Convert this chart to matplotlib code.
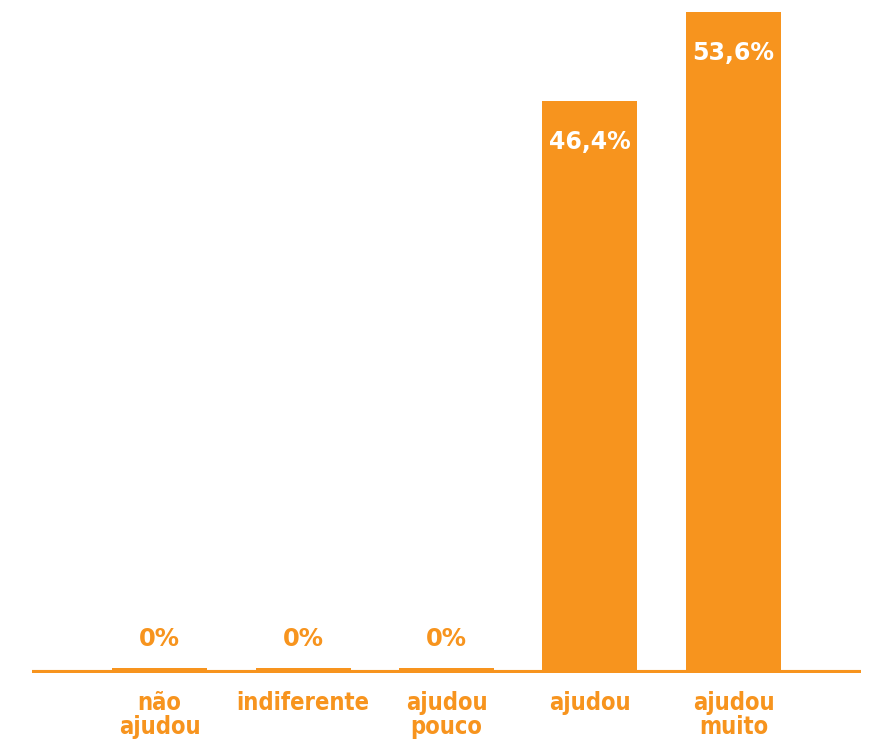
import matplotlib.pyplot as plt
import numpy as np

# Dados
categorias = ['não\najudou', 'indiferente', 'ajudou\npouco', 'ajudou', 'ajudou\nmuito']
valores = [0.0, 0.0, 0.0, 46.4, 53.6]
rotulos = ['0%', '0%', '0%', '46,4%', '53,6%']

laranja = '#F7941E'

fig = plt.figure(figsize=(8.69, 7.42), dpi=100)
ax = fig.add_axes([32 / 869, 0.093, 829 / 869, 0.907])

x = np.arange(len(categorias))
# barras de 0% aparecem como um pequeno traço acima da linha de base
altura = [max(v, 0.42) for v in valores]
ax.bar(x, altura, width=0.662, color=laranja, zorder=2)
ax.axhline(0, color=laranja, linewidth=4.4, zorder=3)

for xi, v, txt in zip(x, valores, rotulos):
    if v > 5:
        ax.annotate(txt, (xi, v), xytext=(0, -29.5), textcoords='offset points',
                    ha='center', va='center', color='white',
                    fontsize=17, fontweight='bold')
    else:
        ax.annotate(txt, (xi, 0.42), xytext=(0, 21), textcoords='offset points',
                    ha='center', va='center', color=laranja,
                    fontsize=17.5, fontweight='bold')

ax.set_xlim(-0.889, 4.889)
ax.set_ylim(0, 54.57)
ax.set_xticks(x, categorias)
ax.tick_params(axis='x', length=0, pad=13, labelcolor=laranja)
for lbl in ax.get_xticklabels():
    lbl.set_fontsize(17)
    lbl.set_fontweight('bold')
    lbl.set_fontstretch('condensed')
    lbl.set_linespacing(1.0)
ax.set_yticks([])
for s in ax.spines.values():
    s.set_visible(False)
ax.patch.set_alpha(0)

fig.savefig('out.png', dpi=100)
